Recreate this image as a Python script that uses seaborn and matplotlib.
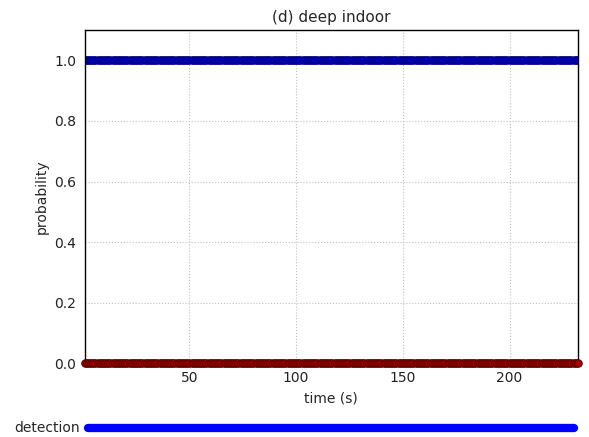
import numpy as np
import pandas as pd
import seaborn as sns
import matplotlib
matplotlib.use("Agg")
import matplotlib.pyplot as plt

# data: one sample per second, constant probabilities
time_s = np.arange(1, 233)
p_deep_indoor = [1.0] * len(time_s)
p_other = [0.0] * len(time_s)
detection = [1] * len(time_s)

x_ticks = [50, 100, 150, 200]
y_ticks = [0.0, 0.2, 0.4, 0.6, 0.8, 1.0]

sns.set_style("white")
plt.rcParams['font.family'] = ['DejaVu Sans']

df = pd.DataFrame({'time': time_s, 'deep': p_deep_indoor, 'other': p_other})

fig = plt.figure(figsize=(5.89, 4.37), dpi=100)
ax = fig.add_axes([0.144, 0.169, 0.837, 0.762])

sns.lineplot(data=df, x='time', y='deep', ax=ax, color='#0000d0', marker='o',
             markersize=5.5, markeredgecolor='#000070', markeredgewidth=0.6, linewidth=1)
sns.lineplot(data=df, x='time', y='other', ax=ax, color='#a00000', marker='o',
             markersize=5.5, markeredgecolor='#500000', markeredgewidth=0.6, linewidth=1,
             clip_on=False, zorder=3)

ax.set_xlim(time_s[0], time_s[-1])
ax.set_ylim(0, 1.1)
ax.set_xticks(x_ticks)
ax.set_yticks(y_ticks)
ax.set_yticklabels([f"{v:.1f}" for v in y_ticks])
ax.grid(True, linestyle=':', color='#c0c0c0', linewidth=0.8)
for s in ax.spines.values():
    s.set_color('black')
    s.set_linewidth(1)
ax.tick_params(labelsize=10, colors='#222222', length=0, pad=6)
ax.set_xlabel('time (s)', fontsize=10)
ax.set_ylabel('probability', fontsize=10)
ax.set_title('(d) deep indoor', fontsize=11)

# detection strip below the main axes
ax2 = fig.add_axes([0.150, 0.005, 0.825, 0.03])
ax2.plot(time_s, detection, color='#0000ff', linewidth=6, solid_capstyle='round',
         clip_on=False)
ax2.set_xlim(time_s[0], time_s[-1])
ax2.set_ylim(0.5, 1.5)
ax2.axis('off')
fig.text(0.135, 0.0205, 'detection', ha='right', va='center', fontsize=10)

fig.savefig('out.png', dpi=100)
